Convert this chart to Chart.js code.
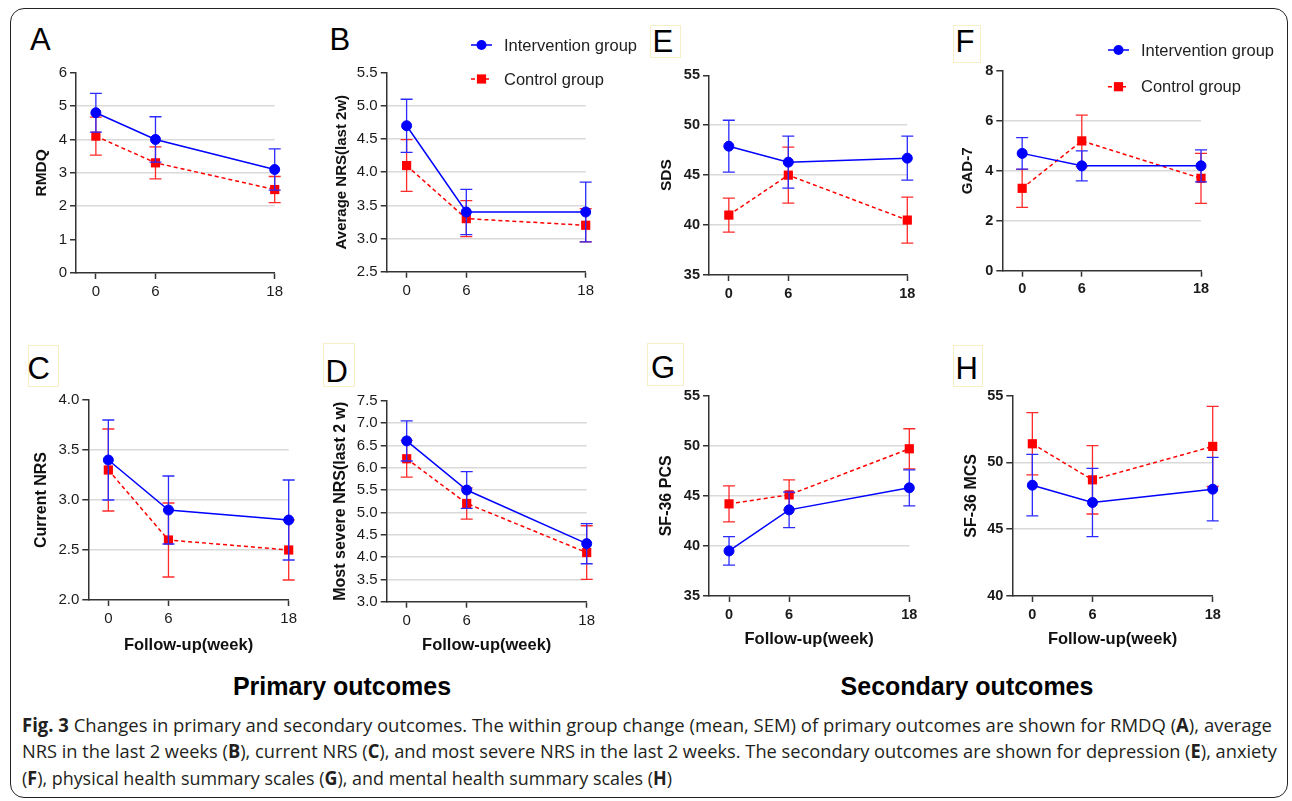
<!DOCTYPE html>
<html><head><meta charset="utf-8">
<script src="https://cdn.jsdelivr.net/npm/chart.js@4.4.1/dist/chart.umd.min.js"></script>
<style>
html,body{margin:0;padding:0;background:#fff;}
body{width:1292px;height:801px;position:relative;overflow:hidden;font-family:"Liberation Sans",Arial,sans-serif;}
.frame{position:absolute;left:10px;top:8px;width:1278px;height:790px;border:1.6px solid #222;border-radius:14px;box-sizing:border-box;}
.pc{position:absolute;}
.pc canvas{display:block;}
.letter{position:absolute;font-size:31px;line-height:31px;color:#000;}
.lbox{position:absolute;border:1px solid #f6eec4;box-sizing:border-box;}
.sect{position:absolute;font-weight:bold;font-size:25px;color:#000;white-space:nowrap;transform:translate(-50%,-50%);line-height:30px;}
.cap{position:absolute;left:22px;white-space:nowrap;font-family:"Open Sans","Noto Sans","Liberation Sans",sans-serif;font-size:19px;line-height:20px;color:#231f20;transform-origin:0 0;}
</style></head>
<body>
<div class="frame"></div>

<div class="lbox" style="left:650px;top:25px;width:31px;height:33px"></div>
<div class="lbox" style="left:953px;top:25px;width:28px;height:38px"></div>
<div class="lbox" style="left:28px;top:345px;width:31px;height:42px"></div>
<div class="lbox" style="left:323px;top:343px;width:32px;height:44px"></div>
<div class="lbox" style="left:647px;top:343px;width:37px;height:43px"></div>
<div class="lbox" style="left:953px;top:345px;width:30px;height:42px"></div>

<div class="letter" style="left:30px;top:24px">A</div>
<div class="letter" style="left:329.5px;top:24px">B</div>
<div class="letter" style="left:652.5px;top:26px">E</div>
<div class="letter" style="left:955.5px;top:26px">F</div>
<div class="letter" style="left:27.5px;top:353px">C</div>
<div class="letter" style="left:325.5px;top:356px">D</div>
<div class="letter" style="left:651px;top:352px">G</div>
<div class="letter" style="left:955.5px;top:353px">H</div>

<div class="sect" style="left:342px;top:686px">Primary outcomes</div>
<div class="sect" style="left:967px;top:686px">Secondary outcomes</div>

<div class="cap" data-w="1250" style="top:714.5px"><b>Fig. 3</b> Changes in primary and secondary outcomes. The within group change (mean, SEM) of primary outcomes are shown for RMDQ (<b>A</b>), average</div>
<div class="cap" data-w="1255" style="top:741px">NRS in the last 2 weeks (<b>B</b>), current NRS (<b>C</b>), and most severe NRS in the last 2 weeks. The secondary outcomes are shown for depression (<b>E</b>), anxiety</div>
<div class="cap" data-w="650" style="top:767.5px">(<b>F</b>), physical health summary scales (<b>G</b>), and mental health summary scales (<b>H</b>)</div>

<script>
// ---------------- DATA ----------------
const weeks = [0, 6, 18];
const seriesNames = ['Intervention group', 'Control group'];
const xTitle = 'Follow-up(week)';

// A: RMDQ
const rmdqInt = [4.8, 4.0, 3.1];
const rmdqIntSem = [0.58, 0.68, 0.62];
const rmdqCtl = [4.1, 3.3, 2.5];
const rmdqCtlSem = [0.57, 0.48, 0.39];
// B: Average NRS (last 2w)
const avgNrsInt = [4.7, 3.4, 3.4];
const avgNrsIntSem = [0.40, 0.34, 0.45];
const avgNrsCtl = [4.1, 3.3, 3.2];
const avgNrsCtlSem = [0.39, 0.27, 0.25];
// C: Current NRS
const curNrsInt = [3.4, 2.9, 2.8];
const curNrsIntSem = [0.40, 0.34, 0.40];
const curNrsCtl = [3.3, 2.6, 2.5];
const curNrsCtlSem = [0.41, 0.37, 0.30];
// D: Most severe NRS (last 2 w)
const sevNrsInt = [6.6, 5.5, 4.3];
const sevNrsIntSem = [0.45, 0.41, 0.45];
const sevNrsCtl = [6.2, 5.2, 4.1];
const sevNrsCtlSem = [0.41, 0.35, 0.60];
// E: SDS
const sdsInt = [47.9, 46.3, 46.7];
const sdsIntSem = [2.6, 2.6, 2.2];
const sdsCtl = [41.0, 45.0, 40.5];
const sdsCtlSem = [1.7, 2.8, 2.3];
// F: GAD-7
const gadInt = [4.7, 4.2, 4.2];
const gadIntSem = [0.63, 0.60, 0.64];
const gadCtl = [3.3, 5.2, 3.7];
const gadCtlSem = [0.76, 1.03, 1.0];
// G: SF-36 PCS
const pcsInt = [39.5, 43.6, 45.8];
const pcsIntSem = [1.42, 1.78, 1.8];
const pcsCtl = [44.2, 45.1, 49.7];
const pcsCtlSem = [1.8, 1.5, 2.0];
// H: SF-36 MCS
const mcsInt = [48.3, 47.0, 48.0];
const mcsIntSem = [2.3, 2.56, 2.38];
const mcsCtl = [51.4, 48.7, 51.2];
const mcsCtlSem = [2.33, 2.56, 3.0];

// y-axis ranges [min, max, step] and gridline values
const yAxisA = [0, 6, 1];       const gridA = [2, 3, 4, 5];
const yAxisB = [2.5, 5.5, 0.5]; const gridB = [3, 3.5, 4, 4.5, 5];
const yAxisC = [2, 4, 0.5];     const gridC = [2.5, 3, 3.5];
const yAxisD = [3, 7.5, 0.5];   const gridD = [3.5, 4, 4.5, 5, 5.5, 6, 6.5, 7];
const yAxisE = [35, 55, 5];     const gridE = [40, 45, 50];
const yAxisF = [0, 8, 2];       const gridF = [2, 4, 6];
const yAxisG = [35, 55, 5];     const gridG = [40, 45, 50];
const yAxisH = [40, 55, 5];     const gridH = [45, 50];

// ---------------- LAYOUT (page pixels) ----------------
const FAMILY = '"Liberation Sans", Arial, sans-serif';
Chart.defaults.font.family = FAMILY;

const panels = [
  {yTitle:'RMDQ', int:rmdqInt, intSem:rmdqIntSem, ctl:rmdqCtl, ctlSem:rmdqCtlSem, ax:yAxisA, grid:gridA, dec:0, bold:false, tsz:15.5,
   box:[15,25,305,285], axX:76, top:72.7, bot:273, right:274.7, ytx:42, xty:null},
  {yTitle:'Average NRS(last 2w)', int:avgNrsInt, intSem:avgNrsIntSem, ctl:avgNrsCtl, ctlSem:avgNrsCtlSem, ax:yAxisB, grid:gridB, dec:1, bold:false, tsz:15,
   box:[322,25,328,285], axX:386.7, top:72.7, bot:271.7, right:585.7, ytx:341.7, xty:null,
   legend:{x:471, len:21, y:[45,79], tx:504}},
  {yTitle:'SDS', int:sdsInt, intSem:sdsIntSem, ctl:sdsCtl, ctlSem:sdsCtlSem, ax:yAxisE, grid:gridE, dec:0, bold:true, tsz:15.5,
   box:[650,25,290,285], axX:709, top:75.3, bot:275, right:907.3, ytx:666.7, xty:null},
  {yTitle:'GAD-7', int:gadInt, intSem:gadIntSem, ctl:gadCtl, ctlSem:gadCtlSem, ax:yAxisF, grid:gridF, dec:0, bold:true, tsz:15,
   box:[940,25,345,285], axX:1002.3, top:71, bot:270.7, right:1201, ytx:968, xty:null,
   legend:{x:1108, len:21, y:[50,86.7], tx:1141}},
  {yTitle:'Current NRS', int:curNrsInt, intSem:curNrsIntSem, ctl:curNrsCtl, ctlSem:curNrsCtlSem, ax:yAxisC, grid:gridC, dec:1, bold:false, tsz:16,
   box:[15,380,307,285], axX:88.3, top:400, bot:600, right:288.7, ytx:41.7, xty:645},
  {yTitle:'Most severe NRS(last 2 w)', int:sevNrsInt, intSem:sevNrsIntSem, ctl:sevNrsCtl, ctlSem:sevNrsCtlSem, ax:yAxisD, grid:gridD, dec:1, bold:false, tsz:16,
   box:[322,380,328,285], axX:386.7, top:400.7, bot:601.7, right:586.7, ytx:340.7, xty:645},
  {yTitle:'SF-36 PCS', int:pcsInt, intSem:pcsIntSem, ctl:pcsCtl, ctlSem:pcsCtlSem, ax:yAxisG, grid:gridG, dec:0, bold:true, tsz:16,
   box:[650,380,290,285], axX:709, top:395.7, bot:596, right:909.3, ytx:666.7, xty:639},
  {yTitle:'SF-36 MCS', int:mcsInt, intSem:mcsIntSem, ctl:mcsCtl, ctlSem:mcsCtlSem, ax:yAxisH, grid:gridH, dec:0, bold:true, tsz:16,
   box:[940,380,345,285], axX:1012.3, top:395.7, bot:596, right:1212.7, ytx:971.7, xty:639}
];

// ---------------- PLUGINS ----------------
const errorBars = {
  id: 'errorBars',
  beforeDatasetDraw(chart, args) {
    const ds = chart.data.datasets[args.index];
    if (!ds.sem) return;
    const ys = chart.scales.y, ctx = chart.ctx;
    ctx.save();
    ctx.strokeStyle = ds.errColor;
    ctx.lineWidth = 1.3;
    ctx.setLineDash([]);
    args.meta.data.forEach((pt, i) => {
      const v = ds.data[i].y, e = ds.sem[i];
      const x = pt.x, y1 = ys.getPixelForValue(v + e), y2 = ys.getPixelForValue(v - e);
      ctx.beginPath();
      ctx.moveTo(x, y1); ctx.lineTo(x, y2);
      ctx.moveTo(x - 6, y1); ctx.lineTo(x + 6, y1);
      ctx.moveTo(x - 6, y2); ctx.lineTo(x + 6, y2);
      ctx.stroke();
    });
    ctx.restore();
  }
};

const prismLegend = {
  id: 'prismLegend',
  afterDraw(chart, args, opts) {
    if (!opts || !opts.show) return;
    const ctx = chart.ctx;
    chart.data.datasets.forEach((ds, i) => {
      const y = opts.y[i], x0 = opts.x, x1 = opts.x + opts.len, xm = (x0 + x1) / 2;
      ctx.save();
      ctx.strokeStyle = ds.borderColor;
      ctx.lineWidth = ds.borderWidth;
      ctx.setLineDash(ds.borderDash || []);
      ctx.beginPath(); ctx.moveTo(x0, y); ctx.lineTo(x1, y); ctx.stroke();
      ctx.setLineDash([]);
      ctx.fillStyle = ds.backgroundColor;
      if (ds.pointStyle === 'rect') {
        const s = ds.pointRadius * Math.SQRT1_2;
        ctx.fillRect(xm - s, y - s, 2 * s, 2 * s);
      } else {
        ctx.beginPath(); ctx.arc(xm, y, ds.pointRadius, 0, Math.PI * 2); ctx.fill();
      }
      ctx.fillStyle = '#222';
      ctx.font = '16.5px ' + FAMILY;
      ctx.textBaseline = 'middle';
      ctx.textAlign = 'left';
      ctx.fillText(ds.label, opts.tx, y + 1);
      ctx.restore();
    });
  }
};

// ---------------- BUILD CHARTS ----------------
function near(list, v) { return list.some(g => Math.abs(g - v) < 1e-6); }

panels.forEach(p => {
  const [cx, cy, cw, ch] = p.box;
  const wrap = document.createElement('div');
  wrap.className = 'pc';
  wrap.style.left = cx + 'px'; wrap.style.top = cy + 'px';
  wrap.style.width = cw + 'px'; wrap.style.height = ch + 'px';
  const c = document.createElement('canvas');
  c.width = cw; c.height = ch;
  c.style.width = cw + 'px'; c.style.height = ch + 'px';
  wrap.appendChild(c);
  document.body.appendChild(wrap);

  const ytLH = p.tsz * 1.2;
  const xtSize = 16.5, xtLH = xtSize * 1.2;
  const yw = p.axX - (p.ytx - ytLH / 2);
  const padL = (p.ytx - ytLH / 2) - cx;
  const padT = p.top - cy;
  const padR = cx + cw - p.right;
  let xh, padB;
  if (p.xty) { xh = p.xty + xtLH / 2 - p.bot; padB = cy + ch - (p.xty + xtLH / 2); }
  else { xh = 30; padB = cy + ch - p.bot - 30; }

  const tickFont = {size: p.bold ? 14.5 : 15, weight: p.bold ? 'bold' : 'normal', family: FAMILY};
  const leg = p.legend ? {show: true, x: p.legend.x - cx, len: p.legend.len,
                          y: p.legend.y.map(v => v - cy), tx: p.legend.tx - cx} : {show: false};

  new Chart(c, {
    type: 'line',
    data: {
      datasets: [
        {label: seriesNames[0], data: weeks.map((w, i) => ({x: w, y: p.int[i]})), sem: p.intSem,
         borderColor: '#0000ff', backgroundColor: '#0000ff', errColor: '#2b2bff', borderWidth: 1.5,
         pointStyle: 'circle', pointRadius: 5, pointHoverRadius: 5, pointBorderWidth: 1,
         pointBackgroundColor: '#0000ff', pointBorderColor: '#0000ff', tension: 0, clip: false, fill: false},
        {label: seriesNames[1], data: weeks.map((w, i) => ({x: w, y: p.ctl[i]})), sem: p.ctlSem,
         borderColor: '#ff0000', backgroundColor: '#ff0000', errColor: '#ff2b2b', borderWidth: 1.5, borderDash: [4, 3],
         pointStyle: 'rect', pointRadius: 6.5, pointHoverRadius: 6.5, pointBorderWidth: 0,
         pointBackgroundColor: '#ff0000', pointBorderColor: '#ff0000', tension: 0, clip: false, fill: false}
      ]
    },
    options: {
      responsive: false, animation: false, events: [],
      layout: {padding: {left: padL, top: padT, right: padR, bottom: padB}},
      plugins: {legend: {display: false}, tooltip: {enabled: false}, prismLegend: leg},
      scales: {
        x: {
          type: 'linear', min: -2, max: 18,
          afterBuildTicks: s => { s.ticks = weeks.map(v => ({value: v})); },
          afterFit: s => { s.height = xh; },
          grid: {drawOnChartArea: false, drawTicks: true, tickLength: 6, tickColor: '#333', tickWidth: 1.5, color: '#333'},
          border: {display: true, color: '#333', width: 1.5},
          ticks: {font: tickFont, color: '#1a1a1a', padding: 4, maxRotation: 0, autoSkip: false},
          title: {display: !!p.xty, text: xTitle, font: {size: xtSize, weight: 'bold', family: FAMILY}, color: '#111', padding: 0}
        },
        y: {
          min: p.ax[0], max: p.ax[1],
          afterFit: s => { s.width = yw; },
          ticks: {stepSize: p.ax[2], callback: v => Number(v).toFixed(p.dec), font: tickFont, color: '#1a1a1a', padding: 3},
          grid: {color: ctx => (ctx.tick && near(p.grid, ctx.tick.value)) ? '#d9d9d9' : 'rgba(0,0,0,0)',
                 lineWidth: 1.5, drawTicks: true, tickLength: 6, tickColor: '#333', tickWidth: 1.5},
          border: {display: true, color: '#333', width: 1.5},
          title: {display: true, text: p.yTitle, font: {size: p.tsz, weight: 'bold', family: FAMILY}, color: '#111', padding: 0}
        }
      }
    },
    plugins: [errorBars, prismLegend]
  });
});

// ---------------- CAPTION FIT ----------------
function fitCaps() {
  document.querySelectorAll('.cap').forEach(el => {
    el.style.transform = 'none';
    const w = el.getBoundingClientRect().width;
    const t = +el.dataset.w;
    if (w > 0) el.style.transform = 'scaleX(' + (t / w) + ')';
  });
}
fitCaps();
if (document.fonts && document.fonts.ready) document.fonts.ready.then(fitCaps);
</script>
</body></html>
